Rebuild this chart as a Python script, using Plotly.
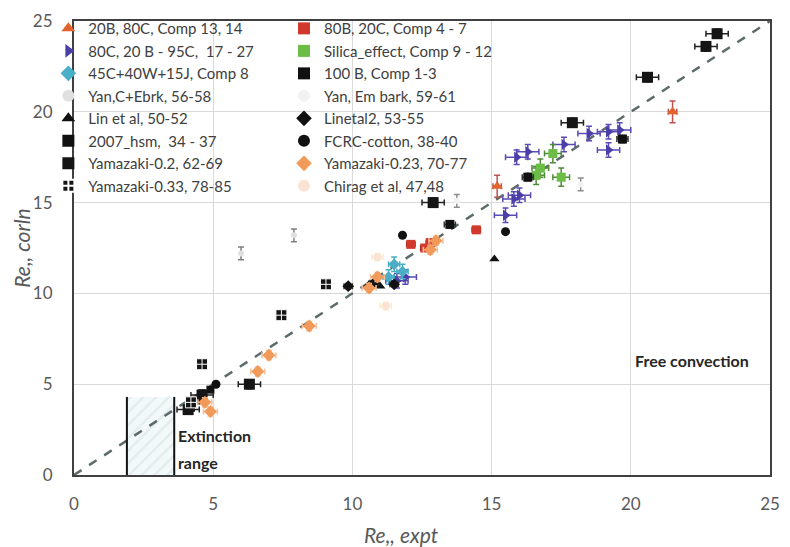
import plotly.graph_objects as go

# ---------------- data ----------------
s_names = [
    "20B, 80C, Comp 13, 14", "80C, 20 B - 95C,  17 - 27", "45C+40W+15J, Comp 8",
    "Yan,C+Ebrk, 56-58", "Lin et al, 50-52", "2007_hsm,  34 - 37",
    "Yamazaki-0.2, 62-69", "Yamazaki-0.33, 78-85",
    "80B, 20C, Comp 4 - 7", "Silica_effect, Comp 9 - 12", "100 B, Comp 1-3",
    "Yan, Em bark, 59-61", "Linetal2, 53-55", "FCRC-cotton, 38-40",
    "Yamazaki-0.23, 70-77", "Chirag et al, 47,48",
]

x_20b = [21.5, 15.2]
y_20b = [20.0, 15.9]
x_80c = [15.9, 16.3, 17.6, 18.5, 19.2, 19.6, 19.2, 16.0, 15.8, 15.5, 11.6, 11.9]
y_80c = [17.5, 17.8, 18.2, 18.8, 18.9, 19.0, 17.9, 15.4, 15.2, 14.3, 10.7, 10.9]
x_45c = [11.5, 11.8, 11.3]
y_45c = [11.6, 11.2, 10.9]
x_yanc = [6.0, 7.9]
y_yanc = [12.2, 13.2]
x_lin = [15.1, 11.0, 10.6]
y_lin = [11.9, 10.4, 10.5]
x_hsm = [4.4, 4.6, 4.9, 4.2]
y_hsm = [4.1, 4.5, 4.7, 3.7]
x_yam02 = [23.1, 22.7, 20.6, 17.9, 12.9, 6.3, 4.1, 4.6]
y_yam02 = [24.3, 23.6, 21.9, 19.4, 15.0, 5.0, 3.6, 4.4]
x_yam033 = [9.05, 7.45, 4.6, 4.2]
y_yam033 = [10.5, 8.8, 6.1, 4.0]
x_80b = [14.45, 12.1, 12.8, 12.6]
y_80b = [13.5, 12.7, 12.8, 12.5]
x_sil = [17.2, 17.5, 16.75, 16.6]
y_sil = [17.7, 16.4, 16.9, 16.5]
x_100b = [16.3, 13.5, 19.7]
y_100b = [16.4, 13.8, 18.5]
x_yanem = [13.75, 18.2]
y_yanem = [15.1, 16.0]
x_lin2 = [9.85, 10.8, 11.5]
y_lin2 = [10.4, 10.6, 10.5]
x_fcrc = [11.8, 15.5, 5.1]
y_fcrc = [13.2, 13.4, 5.0]
x_yam023 = [4.9, 4.7, 6.6, 7.0, 8.45, 10.9, 12.8, 13.0, 10.6]
y_yam023 = [3.5, 4.0, 5.7, 6.6, 8.2, 10.9, 12.4, 12.9, 10.3]
x_chirag = [10.9, 11.2]
y_chirag = [12.0, 9.3]

# error-bar half widths per series (x, y)
err = {
    "20B": (0.15, 0.6), "80C": (0.4, 0.4), "45C": (0.2, 0.4), "YanC": (0.0, 0.35),
    "Lin": (0.0, 0.0), "hsm": (0.1, 0.1), "Yam02": (0.4, 0.25), "Yam033": (0.0, 0.0),
    "80B": (0.15, 0.15), "Sil": (0.3, 0.5), "100B": (0.2, 0.2), "YanEm": (0.0, 0.35),
    "Lin2": (0.15, 0.15), "FCRC": (0.0, 0.0), "Yam023": (0.25, 0.25), "Chirag": (0.2, 0.2),
}

diag = [0, 25]
extinction_x = [1.9, 3.6]
extinction_top = 4.3
x_ticks = [0, 5, 10, 15, 20, 25]
y_ticks = [0, 5, 10, 15, 20, 25]

FONT = "Lato"

fig = go.Figure()

# extinction hatch area
fig.add_trace(go.Scatter(
    x=[extinction_x[0], extinction_x[1], extinction_x[1], extinction_x[0], extinction_x[0]],
    y=[0, 0, extinction_top, extinction_top, 0],
    fill="toself", mode="none", showlegend=False, hoverinfo="skip",
    fillcolor="rgba(235,244,244,0.6)",
    fillpattern=dict(shape="/", fgcolor="#cfe0e0", bgcolor="#f3f8f8", size=9, solidity=0.25),
))
# diagonal dashed line
fig.add_trace(go.Scatter(x=diag, y=diag, mode="lines", showlegend=False, hoverinfo="skip",
                         line=dict(color="#5d6b6b", width=2.5, dash="dash")))
# extinction lines
fig.add_trace(go.Scatter(
    x=[extinction_x[0], extinction_x[0], None, extinction_x[1], extinction_x[1]],
    y=[0, extinction_top, None, 0, extinction_top],
    mode="lines", showlegend=False, hoverinfo="skip",
    line=dict(color="#111111", width=2)))


def add(name, xs, ys, color, symbol, size, key, legend, ecolor=None, lcolor=None, lwidth=0):
    ex, ey = err[key]
    ecol = ecolor or "#333333"
    fig.add_trace(go.Scatter(
        x=xs, y=ys, mode="markers", name=name, legend=legend,
        marker=dict(color=color, symbol=symbol, size=size,
                    line=dict(color=lcolor or color, width=lwidth)),
        error_x=dict(type="constant", value=ex, color=ecol, thickness=1.5, width=3, visible=ex > 0),
        error_y=dict(type="constant", value=ey, color=ecol, thickness=1.5, width=3, visible=ey > 0),
    ))


# column 1 (legend)
add(s_names[0], x_20b, y_20b, "#e2632c", "triangle-up", 10, "20B", "legend", ecolor="#c0504d")
add(s_names[1], x_80c, y_80c, "#4a3fa8", "triangle-right", 10, "80C", "legend", ecolor="#5a4bb5")
add(s_names[2], x_45c, y_45c, "#49aec6", "diamond", 9, "45C", "legend", ecolor="#49aec6")
add(s_names[3], x_yanc, y_yanc, "#e0e0e0", "circle", 6, "YanC", "legend", ecolor="#7f7f7f")
add(s_names[4], x_lin, y_lin, "#111111", "triangle-up", 9, "Lin", "legend")
add(s_names[5], x_hsm, y_hsm, "#111111", "square", 8, "hsm", "legend")
add(s_names[6], x_yam02, y_yam02, "#151515", "square", 11, "Yam02", "legend", ecolor="#222222")
add(s_names[7], x_yam033, y_yam033, "#151515", "square-cross", 11, "Yam033", "legend",
    lcolor="#ffffff", lwidth=1)
# column 2 (legend2)
add(s_names[8], x_80b, y_80b, "#d1392c", "square", 9, "80B", "legend2", ecolor="#7a2a20")
add(s_names[9], x_sil, y_sil, "#6cbd45", "square", 9, "Sil", "legend2", ecolor="#4f8a3a")
add(s_names[10], x_100b, y_100b, "#111111", "square", 9, "100B", "legend2")
add(s_names[11], x_yanem, y_yanem, "#f2f2f2", "circle", 6, "YanEm", "legend2", ecolor="#8c8c8c")
add(s_names[12], x_lin2, y_lin2, "#111111", "diamond", 9, "Lin2", "legend2")
add(s_names[13], x_fcrc, y_fcrc, "#111111", "circle", 9, "FCRC", "legend2")
add(s_names[14], x_yam023, y_yam023, "#f19a5a", "diamond", 10, "Yam023", "legend2", ecolor="#f5c09a")
add(s_names[15], x_chirag, y_chirag, "#fbe3d3", "circle", 8, "Chirag", "legend2", ecolor="#f8ecd0")

L, R, T, B = 74, 10, 15, 72
W, H = 790, 547
pw, ph = W - L - R, H - T - B


def px_x(p):
    return (p - L) / pw


def px_y(p):
    return (H - B - p) / ph


axis_common = dict(
    range=[0, 25], showgrid=True, gridcolor="#d9d9d9", gridwidth=1,
    showline=True, linecolor="#404040", linewidth=2, mirror=True, zeroline=False,
    ticks="outside", tickcolor="rgba(0,0,0,0)",
    tickfont=dict(family=FONT, size=17, color="#595959"),
)

legend_common = dict(
    orientation="v", bgcolor="rgba(0,0,0,0)", borderwidth=0,
    font=dict(family=FONT, size=15, color="#404040"),
    yanchor="top", xanchor="left", itemsizing="constant", tracegroupgap=0,
)

fig.update_layout(
    width=W, height=H,
    margin=dict(l=L, r=R, t=T, b=B),
    plot_bgcolor="white", paper_bgcolor="white",
    xaxis=dict(**axis_common, tickvals=x_ticks, ticklen=13),
    yaxis=dict(**axis_common, tickvals=y_ticks, ticklen=16),
    legend=dict(**legend_common, x=px_x(48), y=px_y(6)),
    legend2=dict(**legend_common, x=px_x(287), y=px_y(6)),
    annotations=[
        dict(text="<i>Re,, expt</i>", xref="paper", yref="paper", x=px_x(406), y=px_y(535),
             xanchor="center", yanchor="middle",
             showarrow=False, font=dict(family=FONT, size=21, color="#595959")),
        dict(text="<i>Re,, corln</i>", xref="paper", yref="paper", x=px_x(20), y=px_y(245),
             xanchor="center", yanchor="middle",
             showarrow=False, textangle=-90, font=dict(family=FONT, size=21, color="#595959")),
        dict(text="<b>Extinction</b>", xref="x", yref="y", x=3.68, y=2.2, xanchor="left",
             showarrow=False, font=dict(family=FONT, size=16, color="#262626")),
        dict(text="<b>range</b>", xref="x", yref="y", x=3.68, y=0.7, xanchor="left",
             showarrow=False, font=dict(family=FONT, size=16, color="#262626")),
        dict(text="<b>Free convection</b>", xref="x", yref="y", x=24.3, y=6.3, xanchor="right",
             showarrow=False, font=dict(family=FONT, size=16, color="#262626")),
    ],
)

fig.write_html("out.html")
